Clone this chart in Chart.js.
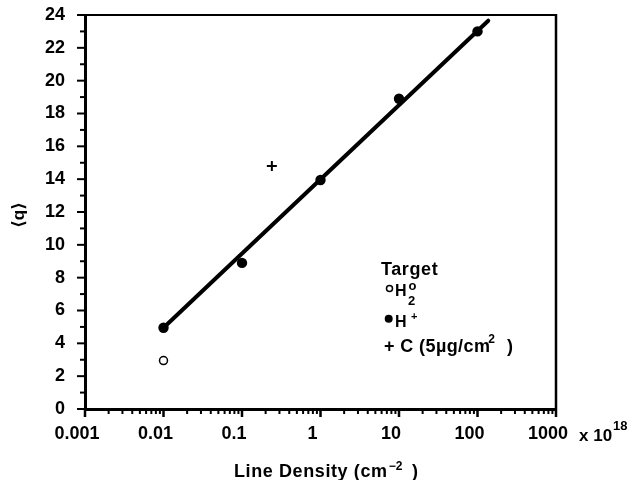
<!DOCTYPE html>
<html>
<head>
<meta charset="utf-8">
<script src="https://cdn.jsdelivr.net/npm/chart.js@4"></script>
<style>
  html, body { margin: 0; padding: 0; background: #fff; }
  #wrap { width: 635px; height: 480px; }
</style>
</head>
<body>
<div id="wrap"><canvas id="grafica"></canvas></div>
<script>
// datos
const hPlusX = [0.01, 0.1, 1, 10, 100];
const hPlusY = [4.95, 8.9, 13.95, 18.9, 23.0];
const h2oX = [0.01];
const h2oY = [2.95];
const carbonX = [0.24];
const carbonY = [14.8];
const ajusteX = [0.01, 137];
const ajusteY = [4.95, 23.65];
const xTickLabels = ['0.001', '0.01', '0.1', '1', '10', '100', '1000'];
const yTickLabels = ['0', '2', '4', '6', '8', '10', '12', '14', '16', '18', '20', '22', '24'];

const FUENTE = "'Liberation Sans', Arial, 'DejaVu Sans', sans-serif";

const aPuntos = (xs, ys) => xs.map((x, i) => ({ x: x, y: ys[i] }));

// texto en negrita, devuelve el ancho
function texto(ctx, t, x, y, tam, esp) {
    ctx.font = 'bold ' + tam + 'px ' + FUENTE;
    ctx.letterSpacing = (esp || 0) + 'px';
    ctx.fillText(t, x, y);
    const w = ctx.measureText(t).width;
    ctx.letterSpacing = '0px';
    return w;
}

// marcas de los ejes, marco y leyenda
const extrasPlugin = {
    id: 'extras',
    afterDraw(chart) {
        const ctx = chart.ctx;
        const xs = chart.scales.x, ys = chart.scales.y;
        const a = chart.chartArea;
        ctx.save();
        ctx.strokeStyle = '#000';
        ctx.fillStyle = '#000';

        // marco superior y derecho
        ctx.lineWidth = 2;
        ctx.beginPath();
        ctx.moveTo(a.left, a.top); ctx.lineTo(a.right, a.top);
        ctx.stroke();
        ctx.lineWidth = 2.5;
        ctx.beginPath();
        ctx.moveTo(a.right, a.top - 1); ctx.lineTo(a.right, a.bottom);
        ctx.stroke();

        // ticks eje y
        ctx.lineWidth = 2;
        for (let v = 0; v <= 24; v++) {
            const py = ys.getPixelForValue(v);
            const largo = (v % 2 === 0) ? 8 : 5;
            ctx.beginPath();
            ctx.moveTo(a.left - largo, py); ctx.lineTo(a.left, py);
            ctx.stroke();
        }
        // ticks eje x (log)
        for (let e = -3; e <= 3; e++) {
            for (let m = 1; m <= 9; m++) {
                const v = m * Math.pow(10, e);
                if (v > 1000) break;
                const px = xs.getPixelForValue(v);
                const largo = (m === 1) ? 8 : 5;
                ctx.lineWidth = (m === 1) ? 2.5 : 2;
                ctx.beginPath();
                ctx.moveTo(px, a.bottom); ctx.lineTo(px, a.bottom + largo);
                ctx.stroke();
            }
        }

        ctx.textBaseline = 'alphabetic';
        ctx.textAlign = 'left';

        // "x 10^18" al lado de 1000
        const x1000 = xs.getPixelForValue(1000);
        texto(ctx, 'x 10', x1000 + 23, 441, 17);
        texto(ctx, '18', x1000 + 57, 430, 13);

        // titulo eje x
        let x = 234;
        x += texto(ctx, 'Line Density (cm', x, 477, 18, 0.6);
        texto(ctx, '\u22122', x + 1, 470, 12);
        texto(ctx, ')', 412, 477, 18);

        // titulo eje y
        ctx.save();
        ctx.translate(24, 215);
        ctx.rotate(-Math.PI / 2);
        ctx.textAlign = 'center';
        ctx.font = 'bold 17px ' + FUENTE;
        ctx.fillText('\u27E8q\u27E9', 0, 0);
        ctx.restore();

        // leyenda
        texto(ctx, 'Target', 381, 275, 18, 0.6);
        // H2o
        ctx.lineWidth = 1.5;
        ctx.beginPath(); ctx.arc(389.5, 288.5, 3, 0, Math.PI * 2); ctx.stroke();
        texto(ctx, 'H', 395, 296, 16);
        texto(ctx, '2', 408, 305, 13);
        texto(ctx, 'o', 408.5, 290, 13);
        // H+
        ctx.beginPath(); ctx.arc(388.7, 318.8, 4, 0, Math.PI * 2); ctx.fill();
        texto(ctx, 'H', 395, 327, 16);
        texto(ctx, '+', 411, 320, 11);
        // C
        x = 384;
        x += texto(ctx, '+ C (5\u00B5g/cm', x, 352, 18, 0.4);
        texto(ctx, '2', x - 2, 343, 12);
        texto(ctx, ')', 507, 352, 18);

        ctx.restore();
    }
};

const ctx = document.getElementById('grafica').getContext('2d');
new Chart(ctx, {
    type: 'scatter',
    data: {
        datasets: [
            { label: 'ajuste', data: aPuntos(ajusteX, ajusteY), showLine: true, borderColor: '#000', borderWidth: 4, pointRadius: 0, borderCapStyle: 'round' },
            { label: 'H+', data: aPuntos(hPlusX, hPlusY), pointRadius: 5.2, pointBackgroundColor: '#000', pointBorderColor: '#000', pointBorderWidth: 0 },
            { label: 'H2o', data: aPuntos(h2oX, h2oY), pointRadius: 4, pointBackgroundColor: '#fff', pointBorderColor: '#000', pointBorderWidth: 1.5 },
            { label: 'C', data: aPuntos(carbonX, carbonY), pointStyle: 'cross', pointRadius: 5, pointBorderColor: '#000', pointBorderWidth: 2 }
        ]
    },
    plugins: [extrasPlugin],
    options: {
        responsive: true,
        maintainAspectRatio: false,
        animation: false,
        layout: { padding: { top: 15, right: 79, left: 0, bottom: 0 } },
        plugins: { legend: { display: false }, tooltip: { enabled: false } },
        scales: {
            x: {
                type: 'logarithmic',
                min: 0.001,
                max: 1000,
                afterFit: (s) => { s.height = 71; s.paddingLeft = 0; s.paddingRight = 0; },
                grid: { display: true, drawOnChartArea: false, drawTicks: false },
                border: { display: true, color: '#000', width: 3 },
                ticks: {
                    autoSkip: false,
                    maxRotation: 0,
                    padding: 14,
                    labelOffset: -8,
                    color: '#000',
                    font: { family: FUENTE, size: 18, weight: 'bold' },
                    callback: (v) => {
                        const l = Math.log10(v);
                        if (Math.abs(l - Math.round(l)) > 1e-6) return '';
                        return xTickLabels[Math.round(l) + 3];
                    }
                }
            },
            y: {
                min: 0,
                max: 24,
                afterFit: (s) => { s.width = 85; s.paddingTop = 0; s.paddingBottom = 0; },
                grid: { display: true, drawOnChartArea: false, drawTicks: false },
                border: { display: true, color: '#000', width: 3 },
                ticks: {
                    stepSize: 2,
                    padding: 20,
                    color: '#000',
                    font: { family: FUENTE, size: 18, weight: 'bold' },
                    callback: (v) => yTickLabels[Math.round(v / 2)]
                }
            }
        }
    }
});
</script>
</body>
</html>
